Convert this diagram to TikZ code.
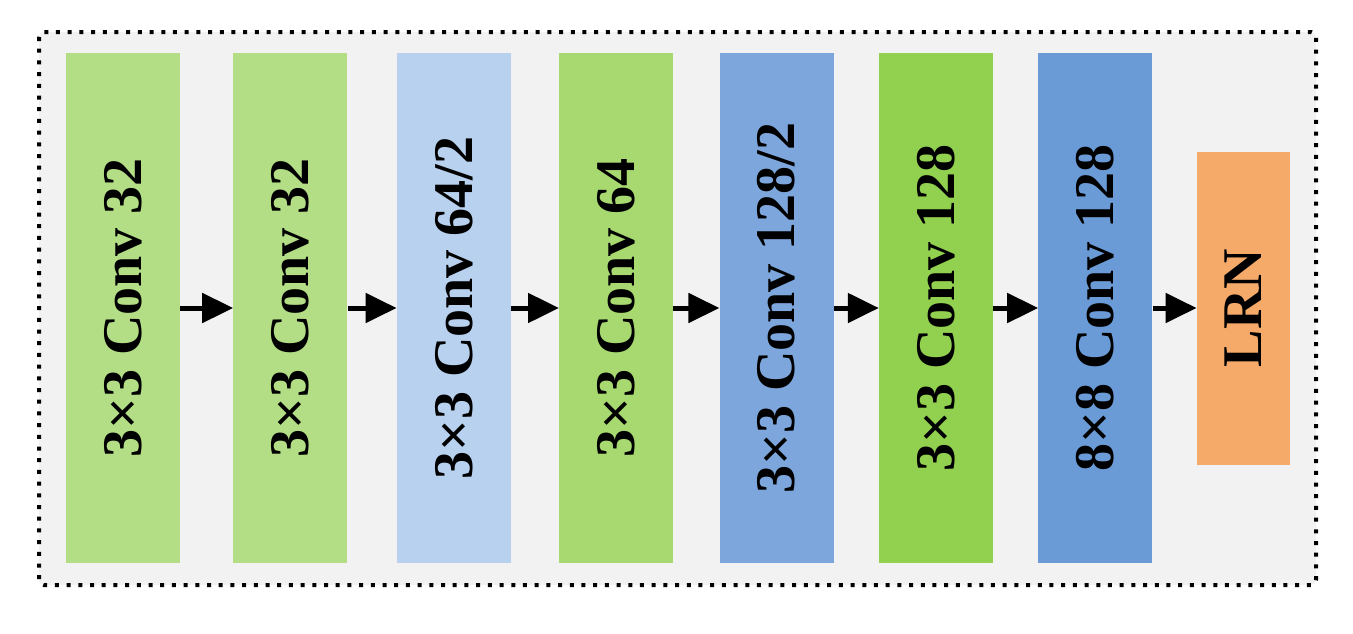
\documentclass[tikz,border=0pt]{standalone}
\usepackage{fontspec}
\setmainfont{Liberation Serif}
\usetikzlibrary{positioning,arrows.meta}
\definecolor{bggray}{HTML}{F2F2F2}
\definecolor{convlight}{HTML}{B3DE86}
\definecolor{convgreen}{HTML}{A8D970}
\definecolor{convbright}{HTML}{92D050}
\definecolor{downpale}{HTML}{B8D1EE}
\definecolor{downblue}{HTML}{7DA7DC}
\definecolor{fcblue}{HTML}{6A9BD7}
\definecolor{lrnorange}{HTML}{F6AA6A}
\begin{document}
\begin{tikzpicture}[
    x=1pt, y=-1pt,
    layer/.style={minimum width=114pt, minimum height=510pt, inner sep=0pt, font=\fontsize{56}{60}\selectfont\bfseries},
    lrn/.style={layer, minimum width=93pt, minimum height=313pt},
    flow/.style={draw, line width=5pt, -{Triangle[length=31pt, width=29pt]}},
    frame/.style={draw, fill=bggray, line width=4pt, dash pattern=on 4pt off 7.7pt, rounded corners=5pt}
    ]

    \useasboundingbox (0,0) rectangle (1353,633);
    \draw[frame] (39,32) rectangle (1316,585);

    \node[layer, fill=convlight] (conv1) at (123,308) {\rotatebox{90}{3×3 Conv 32}};
    \node[layer, fill=convlight, right=53pt of conv1] (conv2) {\rotatebox{90}{3×3 Conv 32}};
    \node[layer, fill=downpale, right=49pt of conv2] (conv3) {\rotatebox{90}{3×3 Conv 64/2}};
    \node[layer, fill=convgreen, right=48pt of conv3] (conv4) {\rotatebox{90}{3×3 Conv 64}};
    \node[layer, fill=downblue, right=46pt of conv4] (conv5) {\rotatebox{90}{3×3 Conv 128/2}};
    \node[layer, fill=convbright, right=45pt of conv5] (conv6) {\rotatebox{90}{3×3 Conv 128}};
    \node[layer, fill=fcblue, right=45pt of conv6] (conv7) {\rotatebox{90}{8×8 Conv 128}};
    \node[lrn, fill=lrnorange, right=44pt of conv7] (norm) {\rotatebox{90}{LRN}};

    \draw[flow] (conv1) -- (conv2);
    \draw[flow] (conv2) -- (conv3);
    \draw[flow] (conv3) -- (conv4);
    \draw[flow] (conv4) -- (conv5);
    \draw[flow] (conv5) -- (conv6);
    \draw[flow] (conv6) -- (conv7);
    \draw[flow] (conv7) -- (norm);

\end{tikzpicture}
\end{document}
